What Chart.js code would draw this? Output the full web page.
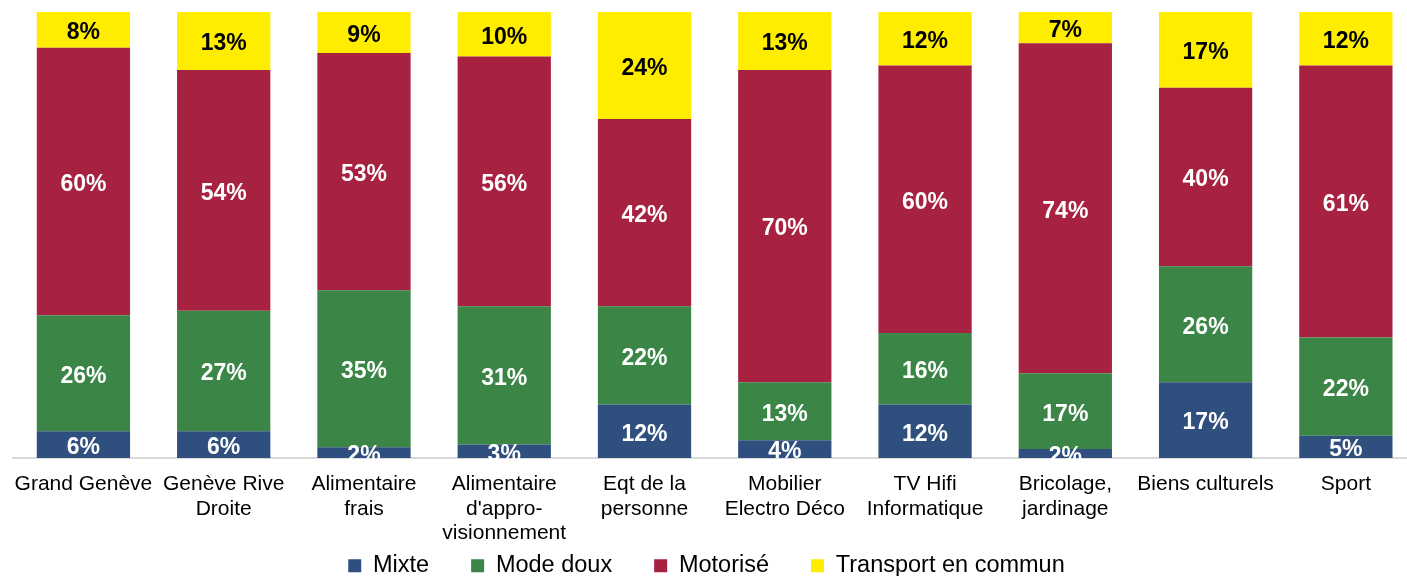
<!DOCTYPE html>
<html lang="fr">
  <head>
    <meta charset="UTF-8" />
    <title>Parts modales par type d'achat</title>
    <script src="https://cdn.jsdelivr.net/npm/chart.js"></script>
    <style>
      html, body {
        margin: 0;
        padding: 0;
        overflow: hidden;
        background: #fff;
      }
      #chartContainer {
        width: 1418px;
        height: 576px;
      }
    </style>
  </head>
  <body>
    <div id="chartContainer">
      <canvas id="myChart"></canvas>
    </div>
    <script>
      const categories = [
        "Grand Genève",
        ["Genève Rive", "Droite"],
        ["Alimentaire", "frais"],
        ["Alimentaire", "d'appro-", "visionnement"],
        ["Eqt de la", "personne"],
        ["Mobilier", "Electro Déco"],
        ["TV Hifi", "Informatique"],
        ["Bricolage,", "jardinage"],
        "Biens culturels",
        "Sport",
      ];
      const mixte = [6, 6, 2.4, 3, 12, 4, 12, 2, 17, 5];
      const modeDoux = [26, 27, 35.2, 31, 22, 13, 16, 17, 26, 22];
      const motorise = [60, 54, 53.2, 56, 42, 70, 60, 74, 40, 61];
      const transportCommun = [8, 13, 9.2, 10, 24, 13, 12, 7, 17, 12];

      const FONT = "'Liberation Sans', Arial, sans-serif";

      // draws the percentage in the middle of each segment
      const segmentLabels = {
        id: "segmentLabels",
        afterDatasetsDraw(chart) {
          const ctx = chart.ctx;
          ctx.save();
          ctx.font = "bold 23px " + FONT;
          ctx.textAlign = "center";
          ctx.textBaseline = "middle";
          chart.data.datasets.forEach((ds, i) => {
            const meta = chart.getDatasetMeta(i);
            meta.data.forEach((bar, j) => {
              const v = ds.data[j];
              ctx.fillStyle = ds.labelColor;
              ctx.fillText(Math.round(v) + "%", bar.x, (bar.y + bar.base) / 2 + 3);
            });
          });
          ctx.restore();
        },
      };

      // legend: wide horizontal spacing but a compact height, sitting at the bottom
      const legendSize = {
        id: "legendSize",
        afterInit(chart) {
          const legend = chart.legend;
          const fit = legend.fit;
          legend.fit = function () {
            fit.call(this);
            this.height = 23;
          };
        },
        afterLayout(chart) {
          const legend = chart.legend;
          legend.left -= 7;
          legend.right -= 7;
          legend.top = 512;
          legend.bottom = 576;
        },
      };

      const ctx = document.getElementById("myChart").getContext("2d");

      new Chart(ctx, {
        type: "bar",
        data: {
          labels: categories,
          datasets: [
            { label: "Mixte", data: mixte, backgroundColor: "#2f4f7f", labelColor: "#fff" },
            { label: "Mode doux", data: modeDoux, backgroundColor: "#3b8546", labelColor: "#fff" },
            { label: "Motorisé", data: motorise, backgroundColor: "#a62240", labelColor: "#fff" },
            { label: "Transport en commun", data: transportCommun, backgroundColor: "#ffed00", labelColor: "#000" },
          ],
        },
        options: {
          responsive: true,
          maintainAspectRatio: false,
          animation: false,
          layout: {
            padding: { top: 12, left: 11, right: 2, bottom: 0 },
          },
          datasets: {
            bar: {
              categoryPercentage: 1,
              barPercentage: 0.665,
            },
          },
          scales: {
            x: {
              stacked: true,
              grid: { display: false, drawTicks: false },
              border: { color: "#d9d9d9", width: 2 },
              ticks: {
                color: "#000",
                padding: 14,
                maxRotation: 0,
                autoSkip: false,
                font: { family: FONT, size: 21, lineHeight: 1.167 },
              },
              afterFit(scale) {
                scale.height = 95;
              },
            },
            y: {
              stacked: true,
              display: false,
              min: 0,
              max: 100,
            },
          },
          plugins: {
            legend: {
              position: "bottom",
              labels: {
                color: "#000",
                boxWidth: 13,
                boxHeight: 13,
                padding: 42,
                font: { family: FONT, size: 23.5 },
              },
            },
            tooltip: { enabled: false },
          },
        },
        plugins: [segmentLabels, legendSize],
      });
    </script>
  </body>
</html>
